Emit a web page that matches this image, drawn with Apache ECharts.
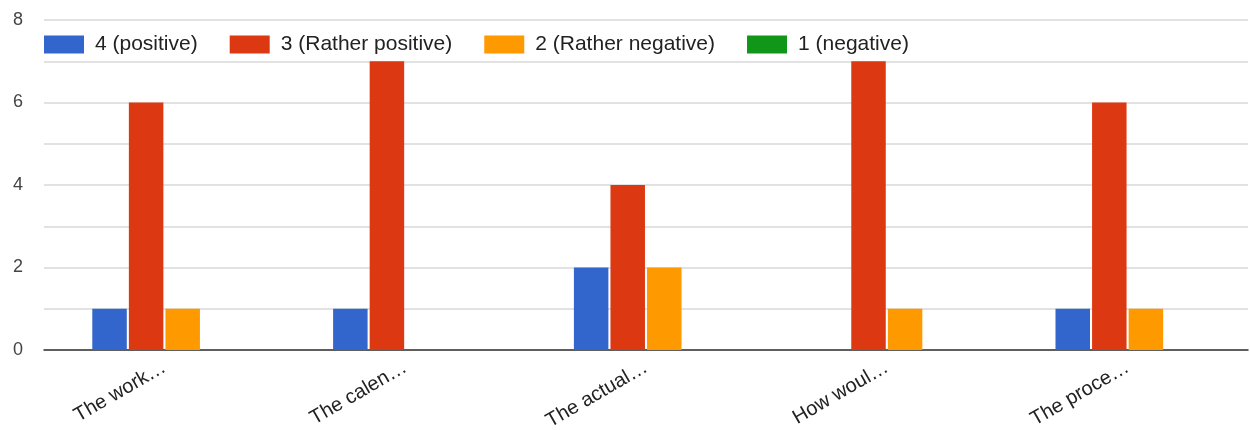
<!DOCTYPE html>
<html>
<head>
<meta charset="utf-8">
<script src="https://cdn.jsdelivr.net/npm/echarts@6/dist/echarts.min.js"></script>
<style>
  html, body { margin: 0; padding: 0; background: #fff; }
  #chart { width: 1250px; height: 430px; }
</style>
</head>
<body>
<div id="chart"></div>
<script>
// Survey answers per question, counted by rating
const categories = ['The work…', 'The calen…', 'The actual…', 'How woul…', 'The proce…'];
const seriesNames = ['4 (positive)', '3 (Rather positive)', '2 (Rather negative)', '1 (negative)'];
const positive = [1, 1, 2, 0, 1];
const ratherPositive = [6, 7, 4, 7, 6];
const ratherNegative = [1, 0, 2, 1, 1];
const negative = [0, 0, 0, 0, 0];
const colors = ['#3366cc', '#dc3912', '#ff9900', '#109618'];

const values = [positive, ratherPositive, ratherNegative, negative];

const chart = echarts.init(document.getElementById('chart'));
chart.setOption({
  animation: false,
  color: colors,
  textStyle: { fontFamily: 'Arial, "Liberation Sans", sans-serif' },
  legend: {
    left: 44,
    top: 34,
    padding: 0,
    itemWidth: 40,
    itemHeight: 18,
    itemGap: 32,
    icon: 'rect',
    textStyle: { fontSize: 21, color: '#222', padding: [0, 0, 0, 6] },
    data: seriesNames
  },
  grid: { left: 44, right: 2, top: 20, bottom: 80, outerBoundsMode: 'none', containLabel: false },
  xAxis: {
    type: 'category',
    data: categories,
    axisLine: { lineStyle: { color: '#333', width: 1.5 } },
    axisTick: { show: false },
    axisLabel: { rotate: 30, fontSize: 20, color: '#222', margin: 16 }
  },
  yAxis: {
    type: 'value',
    min: 0,
    max: 8,
    interval: 1,
    axisLine: { show: false },
    axisTick: { show: false },
    axisLabel: {
      fontSize: 18,
      color: '#444',
      margin: 21,
      formatter: v => (v % 2 === 0 ? String(v) : '')
    },
    splitLine: { lineStyle: { color: '#d9d9d9', width: 1.5 } }
  },
  series: seriesNames.map((name, i) => ({
    name,
    type: 'bar',
    data: values[i],
    barWidth: 34.5,
    barGap: '6%'
  }))
});
</script>
</body>
</html>
